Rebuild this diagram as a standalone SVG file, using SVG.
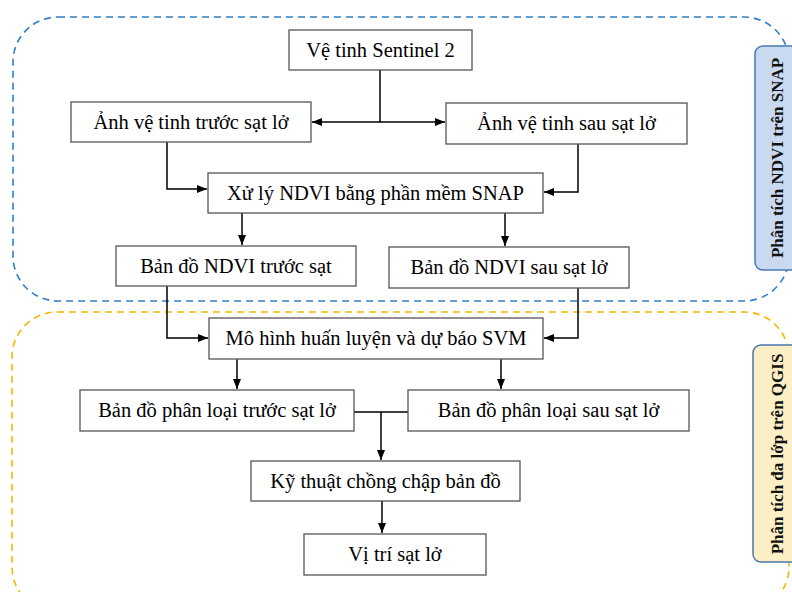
<svg xmlns="http://www.w3.org/2000/svg" width="792" height="592" viewBox="0 0 792 592">
<defs>
<marker id="ah" viewBox="0 0 10 10" refX="10" refY="5" markerWidth="10" markerHeight="10" markerUnits="userSpaceOnUse" orient="auto">
<path d="M0,1 L10,5 L0,9 z" fill="#000"/>
</marker>
</defs>
<style>
.box{fill:#fff;stroke:#555;stroke-width:1.3}
.t{font-family:"Liberation Serif","DejaVu Serif",serif;font-size:20.5px;fill:#000;text-anchor:middle}
.side{font-family:"Liberation Serif","DejaVu Serif",serif;font-size:17px;font-weight:bold;fill:#111;text-anchor:middle}
.c{fill:none;stroke:#000;stroke-width:1.5}
.ca{fill:none;stroke:#000;stroke-width:1.5;marker-end:url(#ah)}
</style>
<rect width="792" height="592" fill="#fff"/>
<g id="group-snap">
<rect x="13" y="17" width="776" height="284" rx="45" fill="none" stroke="#2f7fc8" stroke-width="1.6" stroke-dasharray="7,5"/>
<rect x="755" y="46" width="50" height="224" rx="8" fill="#c9daf0" stroke="#4a78b0" stroke-width="1.5"/>
<text class="side" transform="translate(783,158) rotate(-90)">Phân tích NDVI trên SNAP</text>
</g>
<g id="group-qgis">
<rect x="12" y="312" width="777" height="300" rx="45" fill="none" stroke="#f5b800" stroke-width="1.6" stroke-dasharray="7,5"/>
<rect x="753" y="345" width="50" height="217" rx="8" fill="#fcefc6" stroke="#4a78b0" stroke-width="1.5"/>
<text class="side" transform="translate(783,454) rotate(-90)">Phân tích đa lớp trên QGIS</text>
</g>
<g id="connectors">
<path class="c" d="M380,70 V122"/>
<path class="ca" d="M380,122 H312"/>
<path class="ca" d="M380,122 H445"/>
<path class="ca" d="M167,142 V189 H207"/>
<path class="ca" d="M578,144 V192 H544"/>
<path class="ca" d="M242,213 V245"/>
<path class="ca" d="M505,213 V246"/>
<path class="ca" d="M167,286 V338 H208"/>
<path class="ca" d="M578,288 V338 H544"/>
<path class="ca" d="M237,359 V389"/>
<path class="ca" d="M501,359 V389"/>
<path class="c" d="M354,412 H408"/>
<path class="ca" d="M381,412 V460"/>
<path class="ca" d="M382,501 V533"/>
</g>
<g id="n1"><rect class="box" x="289" y="30" width="183" height="40"/><text class="t" x="380.5" y="57">Vệ tinh Sentinel 2</text></g>
<g id="n2"><rect class="box" x="71" y="102" width="240" height="40"/><text class="t" x="191" y="129">Ảnh vệ tinh trước sạt lở</text></g>
<g id="n3"><rect class="box" x="446" y="103" width="241" height="41"/><text class="t" x="566.5" y="130">Ảnh vệ tinh sau sạt lở</text></g>
<g id="n4"><rect class="box" x="208" y="173" width="335" height="40"/><text class="t" x="375.5" y="200">Xử lý NDVI bằng phần mềm SNAP</text></g>
<g id="n5"><rect class="box" x="116" y="246" width="240" height="40"/><text class="t" x="236" y="273">Bản đồ NDVI trước sạt</text></g>
<g id="n6"><rect class="box" x="389" y="247" width="240" height="41"/><text class="t" x="509" y="274">Bản đồ NDVI sau sạt lở</text></g>
<g id="n7"><rect class="box" x="209" y="318" width="334" height="41"/><text class="t" x="376" y="345">Mô hình huấn luyện và dự báo SVM</text></g>
<g id="n8"><rect class="box" x="80" y="390" width="274" height="41"/><text class="t" x="217" y="417">Bản đồ phân loại trước sạt lở</text></g>
<g id="n9"><rect class="box" x="408" y="390" width="281" height="41"/><text class="t" x="548.5" y="417">Bản đồ phân loại sau sạt lở</text></g>
<g id="n10"><rect class="box" x="251" y="461" width="269" height="40"/><text class="t" x="385.5" y="488">Kỹ thuật chồng chập bản đồ</text></g>
<g id="n11"><rect class="box" x="304" y="534" width="182" height="41"/><text class="t" x="395" y="561">Vị trí sạt lở</text></g>
</svg>
